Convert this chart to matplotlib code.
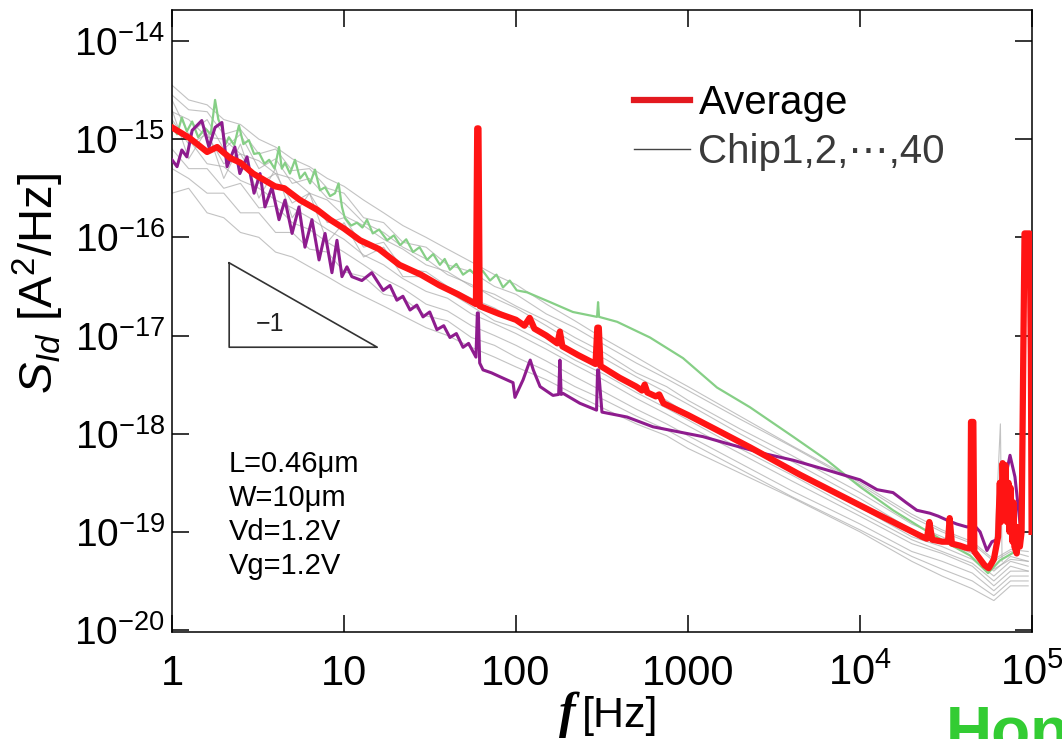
import numpy as np
import matplotlib
matplotlib.use("Agg")
import matplotlib.pyplot as plt
from matplotlib.lines import Line2D

plt.rcParams['font.family'] = ['Liberation Sans', 'DejaVu Sans']
plt.rcParams['mathtext.fontset'] = 'custom'
plt.rcParams['mathtext.rm'] = 'Liberation Sans'
plt.rcParams['mathtext.it'] = 'Liberation Sans:italic'
plt.rcParams['mathtext.bf'] = 'Liberation Sans:bold'

# ---- data: frequency in Hz, noise PSD as log10(S_Id / (A^2/Hz)) ----
RED_F = [1.0, 1.27, 1.6, 1.83, 2.17, 2.5, 2.96, 3.97, 4.5, 5.55, 7, 8.3, 10, 12.4, 16, 21, 28,
         36, 46, 58.5, 59.5, 60.5, 61.5, 80, 100, 112, 120, 128, 150, 174, 180, 186, 230, 290,
         297, 303, 310, 400, 500, 540, 560, 580, 650, 680, 720, 1000, 1500, 2300, 4500, 10000,
         23000, 24500, 25300, 26300, 30000, 32500, 33200, 34200, 38000, 41000, 43800, 44200,
         45600, 46200, 50000, 53000, 56000, 60000, 63500, 65000, 66000, 67500, 69000, 70000,
         71500, 73000, 74000, 75000, 77000, 78000, 79000, 81500, 83000, 85000, 87000, 89000,
         90500, 97000, 98500, 99500]
RED_LOGS = [-14.88, -14.99, -15.13, -15.08, -15.19, -15.24, -15.35, -15.48, -15.50, -15.62,
            -15.72, -15.82, -15.91, -16.03, -16.12, -16.28, -16.38, -16.49, -16.58, -16.68,
            -14.89, -14.89, -16.70, -16.78, -16.84, -16.90, -16.82, -16.93, -17.00, -17.08,
            -16.96, -17.11, -17.20, -17.29, -16.92, -16.92, -17.31, -17.43, -17.52, -17.56,
            -17.50, -17.58, -17.62, -17.60, -17.69, -17.81, -17.97, -18.14, -18.42, -18.73,
            -19.05, -19.07, -18.90, -19.08, -19.10, -19.10, -18.86, -19.12, -19.14, -19.16,
            -19.17, -17.88, -17.88, -19.20, -19.28, -19.34, -19.37, -19.28, -19.05, -18.50,
            -18.90, -18.30, -18.80, -18.32, -18.90, -18.50, -19.00, -18.55, -19.10, -18.70,
            -19.15, -19.22, -18.95, -19.15, -19.00, -17.18, -15.96, -15.96, -17.20, -19.00]

GREEN_F = [1.0, 1.07, 1.14, 1.22, 1.31, 1.42, 1.56, 1.68, 1.78, 1.86, 1.95, 2.05, 2.14, 2.3,
           2.45, 2.6, 2.8, 3.0, 3.21, 3.45, 3.67, 3.95, 4.19, 4.35, 4.54, 4.85, 5.19, 5.55,
           5.93, 6.35, 6.78, 7.25, 7.76, 8.3, 8.87, 9.3, 9.73, 10.1, 11.0, 11.9, 12.8, 13.6,
           14.7, 16.0, 17.8, 19.5, 21.2, 23.0, 25.2, 27.5, 30.4, 33.0, 36.1, 38.5, 41.3, 45.0,
           49.2, 54.0, 59.3, 64.0, 70.6, 77.0, 84.0, 92.0, 101, 116, 158, 214, 296, 300, 304,
           387, 601, 935, 1475, 2290, 4080, 6420, 10000, 15560, 22300, 33400, 43600, 55500,
           65200, 80000]
GREEN_LOGS = [-14.84, -14.95, -14.78, -14.92, -14.82, -14.98, -14.89, -14.95, -14.60, -14.80,
              -14.88, -15.05, -14.98, -15.06, -14.86, -15.05, -15.01, -15.15, -15.14, -15.25,
              -15.21, -15.30, -15.08, -15.30, -15.24, -15.35, -15.21, -15.40, -15.34, -15.45,
              -15.31, -15.52, -15.49, -15.58, -15.55, -15.45, -15.69, -15.80, -15.88, -15.85,
              -15.90, -15.82, -15.96, -15.92, -16.03, -15.98, -16.08, -16.02, -16.15, -16.10,
              -16.23, -16.17, -16.28, -16.22, -16.33, -16.27, -16.38, -16.33, -16.40, -16.34,
              -16.44, -16.38, -16.51, -16.44, -16.54, -16.56, -16.66, -16.76, -16.81, -16.66,
              -16.81, -16.86, -17.02, -17.23, -17.53, -17.73, -18.03, -18.27, -18.54, -18.78,
              -18.95, -19.13, -19.24, -19.42, -19.29, -19.20]

PURPLE_F = [1.0, 1.07, 1.14, 1.22, 1.31, 1.49, 1.64, 1.78, 1.95, 2.09, 2.32, 2.48, 2.73, 3.0,
            3.25, 3.47, 3.81, 4.19, 4.54, 4.99, 5.47, 5.93, 6.51, 7.16, 7.76, 8.51, 9.1, 9.73,
            10.4, 11.1, 12.7, 14.5, 16.9, 18.5, 20.3, 22.0, 24.2, 26.5, 28.8, 31.5, 34.7, 38.0,
            41.3, 45.0, 49.2, 53.0, 58.5, 59.6, 60.4, 61.5, 64.3, 72.0, 80.7, 96.1, 98.6, 110,
            118, 121, 126, 138, 164, 177, 180, 183, 188, 235, 294, 298, 302, 316, 442, 626, 935,
            1222, 1686, 2730, 4080, 6430, 10000, 12560, 15560, 18500, 21400, 25500, 28500,
            32000, 36500, 41900, 46000, 49900, 54700, 58500, 62600, 67800, 74500, 79600, 85000]
PURPLE_LOGS = [-15.21, -15.28, -15.11, -15.18, -14.91, -14.81, -15.08, -14.88, -14.83, -15.28,
               -15.08, -15.35, -15.18, -15.55, -15.35, -15.69, -15.49, -15.82, -15.62, -15.96,
               -15.69, -16.10, -15.82, -16.23, -15.96, -16.36, -16.03, -16.40, -16.30, -16.40,
               -16.44, -16.36, -16.54, -16.49, -16.64, -16.60, -16.74, -16.69, -16.81, -16.76,
               -16.94, -16.90, -17.02, -16.98, -17.12, -17.08, -17.22, -16.77, -16.77, -17.28,
               -17.35, -17.38, -17.42, -17.48, -17.63, -17.45, -17.30, -17.25, -17.35, -17.52,
               -17.61, -17.60, -17.25, -17.60, -17.59, -17.69, -17.76, -17.35, -17.35, -17.78,
               -17.83, -17.93, -17.99, -18.03, -18.10, -18.20, -18.27, -18.37, -18.47, -18.57,
               -18.60, -18.70, -18.78, -18.81, -18.84, -18.88, -18.92, -18.95, -18.93, -19.00,
               -19.19, -19.10, -19.08, -18.57, -18.22, -18.44, -18.90]

CHIP_F = [1, 1.25, 1.6, 2, 2.5, 3.2, 4, 5, 6.3, 8, 10, 13, 17, 22, 30, 40, 55, 75, 100, 150,
          220, 330, 500, 750, 1000, 2000, 4000, 10000, 20000, 30000, 45000, 60000, 75000, 95000]
CHIP_LOGS = [
    [-14.55, -14.70, -14.72, -14.95, -14.90, -15.15, -15.10, -15.32, -15.30, -15.50, -15.55,
     -15.80, -15.85, -16.05, -16.10, -16.28, -16.35, -16.50, -16.58, -16.78, -16.92, -17.10,
     -17.28, -17.44, -17.56, -17.85, -18.13, -18.52, -18.85, -19.00, -19.12, -19.30, -19.20,
     -19.25],
    [-14.72, -14.80, -14.98, -15.00, -15.15, -15.22, -15.35, -15.40, -15.55, -15.62, -15.78,
     -15.88, -16.02, -16.12, -16.28, -16.35, -16.50, -16.58, -16.70, -16.85, -17.02, -17.18,
     -17.38, -17.52, -17.66, -17.95, -18.22, -18.60, -18.92, -19.05, -19.20, -19.40, -19.25,
     -19.30],
    [-14.80, -15.05, -14.95, -15.25, -15.15, -15.45, -15.35, -15.65, -15.55, -15.85, -15.80,
     -16.10, -16.05, -16.32, -16.35, -16.50, -16.62, -16.72, -16.85, -17.00, -17.18, -17.33,
     -17.50, -17.66, -17.80, -18.08, -18.35, -18.75, -19.05, -19.15, -19.28, -19.45, -19.30,
     -19.35],
    [-15.00, -15.00, -15.25, -15.28, -15.42, -15.50, -15.62, -15.70, -15.80, -15.92, -16.02,
     -16.18, -16.28, -16.42, -16.55, -16.62, -16.78, -16.88, -16.98, -17.14, -17.30, -17.46,
     -17.64, -17.80, -17.92, -18.20, -18.48, -18.84, -19.12, -19.22, -19.35, -19.55, -19.40,
     -19.40],
    [-15.10, -15.30, -15.30, -15.50, -15.45, -15.70, -15.68, -15.85, -15.92, -16.05, -16.15,
     -16.28, -16.42, -16.52, -16.68, -16.75, -16.90, -17.00, -17.10, -17.26, -17.42, -17.58,
     -17.75, -17.90, -18.02, -18.30, -18.58, -18.92, -19.20, -19.30, -19.42, -19.60, -19.45,
     -19.45],
    [-15.30, -15.40, -15.55, -15.55, -15.75, -15.75, -15.95, -15.95, -16.12, -16.15, -16.35,
     -16.40, -16.58, -16.62, -16.80, -16.85, -17.02, -17.10, -17.22, -17.36, -17.52, -17.66,
     -17.82, -17.96, -18.08, -18.36, -18.64, -18.98, -19.25, -19.38, -19.50, -19.65, -19.50,
     -19.50],
    [-14.45, -14.60, -14.65, -14.80, -14.85, -15.00, -15.08, -15.20, -15.28, -15.40, -15.48,
     -15.62, -15.75, -15.88, -16.00, -16.12, -16.25, -16.38, -16.48, -16.68, -16.85, -17.04,
     -17.22, -17.40, -17.52, -17.82, -18.12, -18.50, -18.82, -18.98, -19.10, -19.28, -19.18,
     -19.20],
    [-15.55, -15.50, -15.75, -15.80, -15.95, -16.00, -16.15, -16.20, -16.30, -16.40, -16.50,
     -16.60, -16.70, -16.80, -16.92, -17.00, -17.12, -17.22, -17.32, -17.45, -17.60, -17.75,
     -17.90, -18.02, -18.15, -18.40, -18.65, -19.00, -19.30, -19.45, -19.58, -19.70, -19.55,
     -19.55],
    [-14.70, -15.20, -14.90, -15.40, -15.05, -15.60, -15.30, -15.80, -15.55, -16.05, -15.85,
     -16.20, -16.10, -16.40, -16.40, -16.55, -16.70, -16.85, -16.92, -17.08, -17.25, -17.40,
     -17.58, -17.74, -17.86, -18.15, -18.42, -18.80, -19.08, -19.20, -19.32, -19.50, -19.35,
     -19.40],
    [-14.60, -14.95, -14.80, -15.10, -14.95, -15.30, -15.20, -15.45, -15.40, -15.60, -15.65,
     -15.85, -15.95, -16.10, -16.22, -16.38, -16.48, -16.62, -16.72, -16.90, -17.08, -17.24,
     -17.42, -17.58, -17.70, -18.00, -18.28, -18.66, -18.98, -19.10, -19.22, -19.38, -19.28,
     -19.30],
]
CHIP_SPIKE_F = [60000, 65500, 67000]
CHIP_SPIKE_LOGS = [-19.35, -17.90, -19.30]

YTICKS = [1e-20, 1e-19, 1e-18, 1e-17, 1e-16, 1e-15, 1e-14]
YTICK_LABELS = [r'$10^{-20}$', r'$10^{-19}$', r'$10^{-18}$', r'$10^{-17}$',
                r'$10^{-16}$', r'$10^{-15}$', r'$10^{-14}$']
XTICKS = [1, 10, 100, 1000, 1e4, 1e5]
XTICK_LABELS = ['1', '10', '100', '1000', r'$10^4$', r'$10^5$']

CONDITIONS = ['L=0.46\u03bcm', 'W=10\u03bcm', 'Vd=1.2V', 'Vg=1.2V']

W, H = 1062, 739
fig = plt.figure(figsize=(W / 100, H / 100), dpi=100)
ax = fig.add_axes([172 / W, 1 - 632 / H, 860 / W, 622 / H])

def pw(v):
    return 10 ** np.asarray(v)

for row in CHIP_LOGS:
    ax.plot(CHIP_F, pw(row), color='#a9a9a9', lw=0.8, alpha=0.7, zorder=1)
ax.plot(CHIP_SPIKE_F, pw(CHIP_SPIKE_LOGS), color='#a9a9a9', lw=0.8, alpha=0.7, zorder=1)
ax.plot(GREEN_F, pw(GREEN_LOGS), color='#86cf86', lw=1.6, zorder=2)
ax.plot(PURPLE_F, pw(PURPLE_LOGS), color='#8e1c8e', lw=2.2, zorder=3)
ax.plot(RED_F, pw(RED_LOGS), color='#ff1414', lw=4.5, zorder=4, solid_joinstyle='round')

# slope -1 guide triangle
tri_f = [2.15, 2.15, 15.6, 2.15]
tri_s = [5.5e-17, 7.6e-18, 7.6e-18, 5.5e-17]
ax.plot(tri_f, tri_s, color='#333333', lw=1.2, zorder=5)
ax.text(3.7, 1.3e-17, '\u22121', fontsize=18, color='#222222', ha='center', va='center')

ax.set_xscale('log')
ax.set_yscale('log')
ax.set_xlim(1, 1e5)
ax.set_ylim(10 ** -20.02, 10 ** -13.684)
ax.set_xticks(XTICKS)
ax.set_xticklabels(XTICK_LABELS)
ax.set_yticks(YTICKS)
ax.set_yticklabels(YTICK_LABELS)
ax.minorticks_off()
ax.tick_params(axis='both', direction='in', length=12, width=1.1, top=True, right=True)
ax.tick_params(axis='y', labelsize=28, pad=5)
ax.tick_params(axis='x', labelsize=30, pad=38)
for lab in ax.get_xticklabels():
    lab.set_verticalalignment('baseline')
for s in ax.spines.values():
    s.set_linewidth(1.1)

ax.text((229 - 172) / 860, (632 - 450) / 622, '\n'.join(CONDITIONS), transform=ax.transAxes,
        fontsize=21, ha='left', va='top', linespacing=1.28)

handles = [Line2D([], [], color='#e3191f', lw=4.5), Line2D([], [], color='#444444', lw=1.0)]
leg = ax.legend(handles, ['Average', 'Chip1,2,\u22ef,40'], loc='upper left',
                bbox_to_anchor=((634 - 172) / 860, (632 - 84) / 622), frameon=False,
                fontsize=29, handlelength=1.4, handletextpad=0.2, labelspacing=0.28,
                borderaxespad=0, borderpad=0)
leg.get_texts()[1].set_color('#3a3a3a')

fig.text(38 / W, 1 - 284 / H, r'$S_{Id}$ [A$^2$/Hz]', rotation=90, fontsize=34,
         ha='center', va='center')
fig.text(576 / W, 1 - 727 / H, 'f', fontsize=36, family='Liberation Serif', style='italic',
         weight='bold', ha='right', va='baseline')
fig.text(582 / W, 1 - 727 / H, '[Hz]', fontsize=31, ha='left', va='baseline')
fig.text(946 / W, 1 - 752 / H, 'Hon', fontsize=46, weight='bold', color='#33cc33',
         ha='left', va='baseline')

fig.savefig('out.png', dpi=100)
